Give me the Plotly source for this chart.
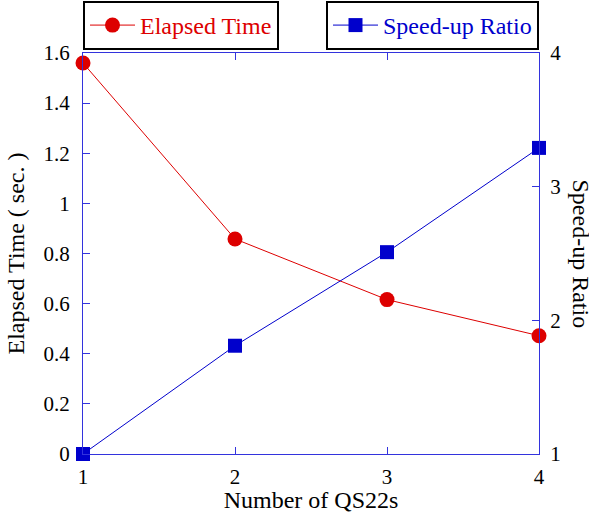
import plotly.graph_objects as go

nodes = [1, 2, 3, 4]
elapsed = [1.56, 0.858, 0.616, 0.472]
speedup = [1.0, 1.81, 2.51, 3.29]

RED = "#dd0000"
BLUE = "#0000cc"
AX = "#3333dd"
FONT = "Liberation Serif, Times New Roman, serif"

fig = go.Figure()
fig.add_trace(go.Scatter(x=nodes, y=elapsed, name="Elapsed Time", mode="lines+markers",
                         line=dict(color=RED, width=1), marker=dict(symbol="circle", size=15, color=RED),
                         legend="legend", cliponaxis=False))
fig.add_trace(go.Scatter(x=nodes, y=speedup, name="Speed-up Ratio", mode="lines+markers",
                         line=dict(color=BLUE, width=1), marker=dict(symbol="square", size=14, color=BLUE),
                         yaxis="y2", legend="legend2", cliponaxis=False))

fig.update_layout(
    width=589, height=513,
    margin=dict(l=83, r=50, t=53, b=59, autoexpand=False),
    paper_bgcolor="white", plot_bgcolor="white",
    font=dict(family=FONT, size=21, color="black"),
    showlegend=True,
    xaxis=dict(range=[1, 4], tickvals=[1, 2, 3, 4], showgrid=False, zeroline=False,
               showline=True, linecolor=AX, linewidth=1, mirror="ticks",
               ticks="inside", ticklen=7, tickcolor=AX, ticklabelstandoff=4,
               title=dict(text="Number of QS22s", font=dict(size=24), standoff=0),
               tickfont=dict(size=21)),
    yaxis=dict(range=[0, 1.6], tickvals=[0, 0.2, 0.4, 0.6, 0.8, 1, 1.2, 1.4, 1.6],
               ticktext=["0", "0.2", "0.4", "0.6", "0.8", "1", "1.2", "1.4", "1.6"],
               showgrid=False, zeroline=False, showline=True, linecolor=AX, linewidth=1,
               ticks="inside", ticklen=7, tickcolor=AX, ticklabelstandoff=8,
               title=dict(text="Elapsed Time ( sec. )", font=dict(size=24), standoff=12),
               tickfont=dict(size=21)),
    yaxis2=dict(range=[1, 4], tickvals=[1, 2, 3, 4], overlaying="y", side="right",
                showgrid=False, zeroline=False, showline=True, linecolor=AX, linewidth=1,
                ticks="inside", ticklen=7, tickcolor=AX, ticklabelstandoff=6,
                tickfont=dict(size=21)),
    legend=dict(x=0, xanchor="left", y=1.0075, yanchor="bottom", orientation="h",
                bordercolor="black", borderwidth=2, bgcolor="white",
                font=dict(size=24, color=RED), itemwidth=45),
    legend2=dict(x=1, xanchor="right", y=1.0075, yanchor="bottom", orientation="h",
                 bordercolor="black", borderwidth=2, bgcolor="white",
                 font=dict(size=24, color=BLUE), itemwidth=45),
    annotations=[dict(text="Speed-up Ratio", textangle=90, x=1, xref="paper", xanchor="center",
                      xshift=42, y=0.5, yref="paper", showarrow=False,
                      font=dict(size=24, color="black"))],
)

fig.write_html("out.html", config={"displayModeBar": False},
               post_script="document.body.style.margin='0';")
